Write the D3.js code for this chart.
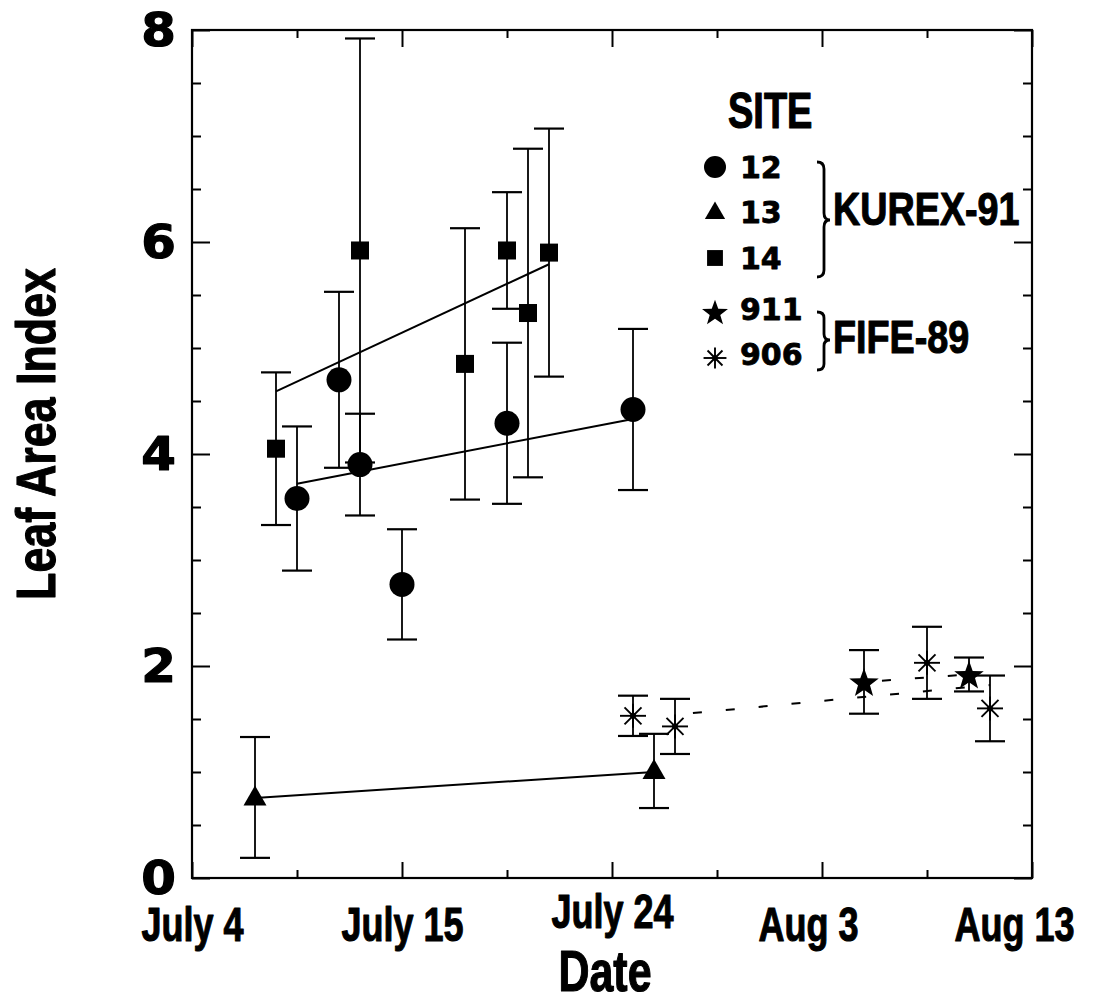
<!DOCTYPE html>
<html>
<head>
<meta charset="utf-8">
<script src="https://cdn.jsdelivr.net/npm/d3@7"></script>
<style>
  body { margin: 0; background: #fff; }
  svg { display: block; }
</style>
</head>
<body>
<svg id="chart" width="1104" height="1005"></svg>
<script>
// ---- Axis definitions (x = day of year) ----
const tickDays   = [185, 195, 205, 215, 225];
const tickLabels = ["July 4", "July 15", "July 24", "Aug 3", "Aug 13"];
const minorDays  = [190, 200, 210, 220];
const yTicks     = [0, 2, 4, 6, 8];
const yMinor     = [0.5, 1, 1.5, 2.5, 3, 3.5, 4.5, 5, 5.5, 6.5, 7, 7.5];

// ---- KUREX-91, site 12 (circles) ----
const site12Days = [190, 192, 193, 195, 200, 206];
const site12LAI  = [3.58, 4.70, 3.90, 2.77, 4.29, 4.42];
const site12Err  = [0.68, 0.83, 0.48, 0.52, 0.76, 0.76];
const site12FitDays = [190, 206];
const site12FitLAI  = [3.72, 4.33];

// ---- KUREX-91, site 13 (triangles) ----
const site13Days = [188, 207];
const site13LAI  = [0.76, 1.01];
const site13Err  = [0.57, 0.35];
const site13FitDays = [188, 207];
const site13FitLAI  = [0.755, 1.00];

// ---- KUREX-91, site 14 (squares) ----
const site14Days = [189, 193, 198, 200, 201, 202];
const site14LAI  = [4.05, 5.92, 4.85, 5.92, 5.33, 5.90];
const site14Err  = [0.72, 2.00, 1.28, 0.55, 1.55, 1.17];
const site14FitDays = [189, 202];
const site14FitLAI  = [4.59, 5.79];

// ---- FIFE-89, site 911 (stars) ----
const site911Days = [217, 222];
const site911LAI  = [1.85, 1.92];
const site911Err  = [0.30, 0.16];
const site911FitDays = [217, 222];
const site911FitLAI  = [1.85, 1.92];

// ---- FIFE-89, site 906 (asterisks) ----
const site906Days = [206, 208, 220, 223];
const site906LAI  = [1.53, 1.43, 2.03, 1.60];
const site906Err  = [0.19, 0.26, 0.34, 0.31];
const site906FitDays = [208, 223];
const site906FitLAI  = [1.54, 1.82];

// ---- Legend ----
const legendSites  = ["12", "13", "14", "911", "906"];
const legendShapes = ["circle", "triangle", "square", "star", "asterisk"];
const campaigns = ["KUREX-91", "FIFE-89"];

const svg = d3.select("#chart");
const plotL = 192, plotR = 1032, plotT = 30, plotB = 878;
const x = d3.scaleLinear().domain([185, 225]).range([plotL, plotR]);
const y = d3.scaleLinear().domain([0, 8]).range([plotB, plotT]);

const narrowFont = "'Liberation Sans', Arial, Helvetica, sans-serif";
const wideFont = "'DejaVu Sans', Verdana, sans-serif";

// squeeze text horizontally to a condensed look
function condense(sel, k) {
  sel.each(function () {
    const w = this.getComputedTextLength();
    d3.select(this).attr("textLength", w * k).attr("lengthAdjust", "spacingAndGlyphs");
  });
}
// heavy lettering: bold face plus a thin outline
function heavy(sel, sw) {
  sel.attr("font-weight", "bold").attr("fill", "#000")
    .attr("stroke", "#000").attr("stroke-width", sw).attr("stroke-linejoin", "round");
}

// ---- Shape paths ----
function starPath(R, r) {
  const pts = [];
  for (let i = 0; i < 10; i++) {
    const a = -Math.PI / 2 + i * Math.PI / 5;
    const rr = i % 2 === 0 ? R : r;
    pts.push([rr * Math.cos(a), rr * Math.sin(a)]);
  }
  return "M" + pts.map(p => p[0].toFixed(2) + "," + p[1].toFixed(2)).join("L") + "Z";
}
function drawMarker(g, shape, cx, cy, s) {
  if (shape === "circle") {
    g.append("circle").attr("cx", cx).attr("cy", cy).attr("r", 12.5 * s).attr("fill", "#000");
  } else if (shape === "square") {
    const h = 9 * s;
    g.append("rect").attr("x", cx - h).attr("y", cy - h).attr("width", 2 * h).attr("height", 2 * h).attr("fill", "#000");
  } else if (shape === "triangle") {
    const hw = 11.5 * s, up = 12 * s, dn = 8 * s;
    g.append("path").attr("d", `M${cx},${cy - up}L${cx + hw},${cy + dn}L${cx - hw},${cy + dn}Z`).attr("fill", "#000");
  } else if (shape === "star") {
    g.append("path").attr("transform", `translate(${cx},${cy + 1.5 * s})`)
      .attr("d", starPath(15.5 * s, 6.3 * s)).attr("fill", "#000");
  } else if (shape === "asterisk") {
    const a = g.append("g").attr("transform", `translate(${cx},${cy})`);
    for (let i = 0; i < 8; i++) {
      const ang = i * Math.PI / 4;
      const len = (i % 4 === 0 ? 13 : 12) * s;
      a.append("line").attr("x1", 0).attr("y1", 0)
        .attr("x2", len * Math.cos(ang)).attr("y2", len * Math.sin(ang))
        .attr("stroke", "#000").attr("stroke-width", 1.9);
    }
    a.append("circle").attr("r", 3 * s).attr("fill", "#000");
  }
}

// ---- Frame and ticks ----
const axes = svg.append("g").attr("class", "axes");
function styleTicks(g) {
  g.select(".domain").remove();
  g.selectAll(".tick line").attr("stroke", "#000").attr("stroke-width", 2);
}
axes.append("g").attr("transform", `translate(0,${plotB})`)
  .call(d3.axisBottom(x).tickValues(minorDays).tickSize(-8).tickFormat(""))
  .call(styleTicks);
const xMajor = axes.append("g").attr("transform", `translate(0,${plotB})`)
  .call(d3.axisBottom(x).tickValues(tickDays).tickSize(-16).tickFormat((d, i) => tickLabels[i]))
  .call(styleTicks);
axes.append("g").attr("transform", `translate(0,${plotT})`)
  .call(d3.axisTop(x).tickValues(minorDays).tickSize(-8).tickFormat(""))
  .call(styleTicks);
axes.append("g").attr("transform", `translate(0,${plotT})`)
  .call(d3.axisTop(x).tickValues(tickDays).tickSize(-17).tickFormat(""))
  .call(styleTicks);
axes.append("g").attr("transform", `translate(${plotL},0)`)
  .call(d3.axisLeft(y).tickValues(yMinor).tickSize(-9).tickFormat(""))
  .call(styleTicks);
const yMajor = axes.append("g").attr("transform", `translate(${plotL},0)`)
  .call(d3.axisLeft(y).tickValues(yTicks).tickSize(-18).tickPadding(16).tickFormat(d3.format("d")))
  .call(styleTicks);
axes.append("g").attr("transform", `translate(${plotR},0)`)
  .call(d3.axisRight(y).tickValues(yMinor).tickSize(-9).tickFormat(""))
  .call(styleTicks);
axes.append("g").attr("transform", `translate(${plotR},0)`)
  .call(d3.axisRight(y).tickValues(yTicks).tickSize(-18).tickFormat(""))
  .call(styleTicks);
axes.append("rect").attr("x", plotL).attr("y", plotT)
  .attr("width", plotR - plotL).attr("height", plotB - plotT)
  .attr("fill", "none").attr("stroke", "#000").attr("stroke-width", 2.2);

// y tick labels: wide heavy digits
yMajor.selectAll(".tick text")
  .attr("font-family", wideFont).attr("font-size", 47)
  .attr("dy", "0.34em")
  .call(heavy, 1.2)
  .call(condense, 1.06);

// x tick labels: condensed bold
const xLabelShift = { "July 24": [0, -13], "Aug 3": [-14, 0], "Aug 13": [-18, 0] };
const shiftOf = d => xLabelShift[tickLabels[tickDays.indexOf(d)]] || [0, 0];
xMajor.selectAll(".tick text")
  .attr("font-family", narrowFont).attr("font-size", 48)
  .attr("y", 0)
  .attr("dy", d => 63 + shiftOf(d)[1])
  .attr("dx", d => shiftOf(d)[0])
  .call(heavy, 1.1)
  .call(condense, 0.75);

// ---- Axis titles ----
svg.append("text").attr("x", 605).attr("y", 991).attr("text-anchor", "middle")
  .attr("font-family", narrowFont).attr("font-size", 58)
  .text("Date").call(heavy, 1.2).call(condense, 0.74);
svg.append("text").attr("transform", "translate(55,434) rotate(-90)").attr("text-anchor", "middle")
  .attr("font-family", narrowFont).attr("font-size", 56)
  .text("Leaf Area Index").call(heavy, 1.2).call(condense, 0.8);

// ---- Data layers ----
const plot = svg.append("g").attr("class", "plot");
const series = [
  { days: site12Days, lai: site12LAI, err: site12Err, fd: site12FitDays, fl: site12FitLAI, shape: "circle", dash: null },
  { days: site13Days, lai: site13LAI, err: site13Err, fd: site13FitDays, fl: site13FitLAI, shape: "triangle", dash: null },
  { days: site14Days, lai: site14LAI, err: site14Err, fd: site14FitDays, fl: site14FitLAI, shape: "square", dash: null },
  { days: site911Days, lai: site911LAI, err: site911Err, fd: site911FitDays, fl: site911FitLAI, shape: "star", dash: "9,24" },
  { days: site906Days, lai: site906LAI, err: site906Err, fd: site906FitDays, fl: site906FitLAI, shape: "asterisk", dash: "9,24" }
];

const capHalf = 15;
const errG = plot.append("g").attr("stroke", "#000").attr("stroke-width", 1.8);
series.forEach(s => {
  s.days.forEach((d, i) => {
    const cx = x(d), y1 = y(s.lai[i] + s.err[i]), y0 = y(s.lai[i] - s.err[i]);
    errG.append("line").attr("x1", cx).attr("x2", cx).attr("y1", y1).attr("y2", y0);
    errG.append("line").attr("x1", cx - capHalf).attr("x2", cx + capHalf).attr("y1", y1).attr("y2", y1).attr("stroke-width", 2.2);
    errG.append("line").attr("x1", cx - capHalf).attr("x2", cx + capHalf).attr("y1", y0).attr("y2", y0).attr("stroke-width", 2.2);
  });
});

const line = d3.line().x(p => x(p[0])).y(p => y(p[1]));
series.forEach(s => {
  const pts = s.fd.map((d, i) => [d, s.fl[i]]);
  const p = plot.append("path").attr("d", line(pts)).attr("fill", "none")
    .attr("stroke", "#000").attr("stroke-width", 2);
  if (s.dash) p.attr("stroke-dasharray", s.dash).attr("stroke-dashoffset", -18);
});

const markG = plot.append("g");
series.forEach(s => {
  s.days.forEach((d, i) => drawMarker(markG, s.shape, x(d), y(s.lai[i]), 1));
});

// ---- Legend ----
const lg = svg.append("g").attr("class", "legend");
lg.append("text").attr("x", 728).attr("y", 128)
  .attr("font-family", narrowFont).attr("font-size", 50)
  .text("SITE").call(heavy, 1.2).call(condense, 0.76);
const rowY = [167, 212, 258, 312, 358];
const baseY = [178, 223, 269, 320, 365];
legendSites.forEach((name, i) => {
  drawMarker(lg, legendShapes[i], 715, rowY[i], 0.88);
  lg.append("text").attr("x", 740).attr("y", baseY[i])
    .attr("font-family", wideFont).attr("font-size", 30)
    .text(name).call(heavy, 0.8);
});

function brace(x0, x1, x2, yTop, yBot, yMid, r) {
  return `M${x0},${yTop}Q${x1},${yTop} ${x1},${yTop + r}` +
         `L${x1},${yMid - r}Q${x1},${yMid} ${x2},${yMid}` +
         `Q${x1},${yMid} ${x1},${yMid + r}` +
         `L${x1},${yBot - r}Q${x1},${yBot} ${x0},${yBot}`;
}
lg.append("path").attr("d", brace(817, 824, 830, 162, 277, 220, 7))
  .attr("fill", "none").attr("stroke", "#000").attr("stroke-width", 2.8);
lg.append("path").attr("d", brace(817, 824, 830, 312, 370, 340, 6))
  .attr("fill", "none").attr("stroke", "#000").attr("stroke-width", 2.8);
lg.append("text").attr("x", 833).attr("y", 225)
  .attr("font-family", narrowFont).attr("font-size", 46)
  .text(campaigns[0]).call(heavy, 1.1).call(condense, 0.82);
lg.append("text").attr("x", 833).attr("y", 353)
  .attr("font-family", narrowFont).attr("font-size", 46)
  .text(campaigns[1]).call(heavy, 1.1).call(condense, 0.82);
</script>
</body>
</html>
